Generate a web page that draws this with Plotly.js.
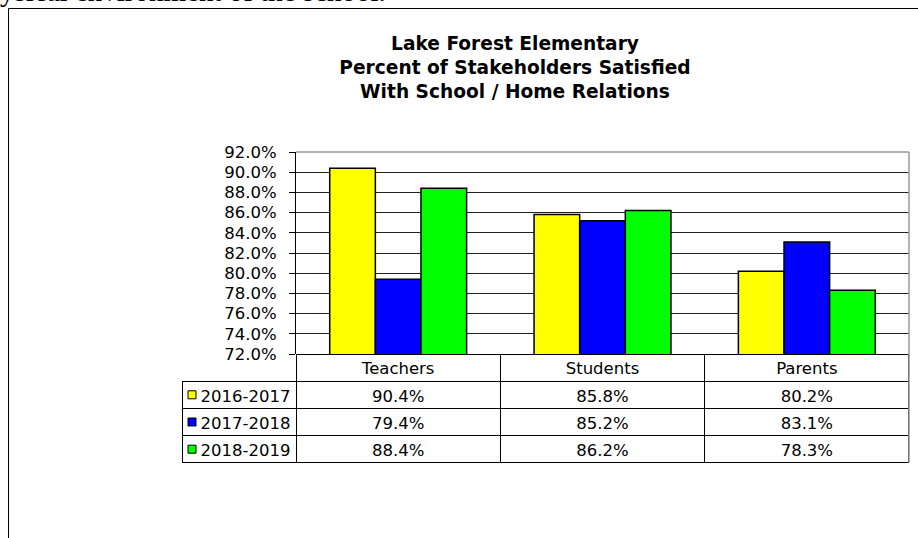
<!DOCTYPE html>
<html>
<head>
<meta charset="utf-8">
<script src="https://cdn.plot.ly/plotly-3.0.1.min.js"></script>
<style>
  html, body { margin: 0; padding: 0; background: #fff; overflow: hidden; }
  #wrap { position: relative; width: 918px; height: 538px; overflow: hidden; }
  #toptext { position: absolute; left: -29px; top: -23px; font-family: "Liberation Serif", "Times New Roman", serif; font-size: 29px; line-height: 29px; color: #000; white-space: nowrap; z-index: 2; }
  #chart { position: absolute; left: 0; top: 0; width: 918px; height: 538px; }
</style>
</head>
<body>
<div id="wrap">
  <div id="chart"></div>
  <div id="toptext">physical environment of the school.</div>
</div>
<script>
// ---- data ----
const categories = ['Teachers', 'Students', 'Parents'];
const seriesNames = ['2016-2017', '2017-2018', '2018-2019'];
const values2016 = [90.4, 85.8, 80.2];
const values2017 = [79.4, 85.2, 83.1];
const values2018 = [88.4, 86.2, 78.3];
const seriesColors = ['#FFFF00', '#0000FF', '#00FF00'];
const yTickRange = [72, 92];

const allSeries = [values2016, values2017, values2018];

// ---- geometry helpers (pixel -> paper) ----
const W = 918, H = 538;
const px = x => x / W;
const py = y => 1 - y / H;

const FONT = 'DejaVu Sans, Verdana, sans-serif';
const FS = 16.5;

const plotL = 296, plotR = 909, plotT = 152, plotB = 354;
const tableL = 182, rowH = 27.2;
const tableB = plotB + 4 * rowH;

const traces = allSeries.map((vals, i) => ({
  type: 'bar',
  name: seriesNames[i],
  x: categories,
  y: vals,
  marker: { color: seriesColors[i], line: { color: '#000', width: 1.5 } },
  hoverinfo: 'x+y+name',
  showlegend: false
}));

const fmt = v => v.toFixed(1) + '%';
const tableDomainY = [py(tableB) - 0.002, py(plotB)];

// data table (header = categories, rows = series)
traces.push({
  type: 'table',
  domain: { x: [px(plotL), px(plotR)], y: tableDomainY },
  columnwidth: [1, 1, 1],
  header: {
    values: categories,
    height: rowH,
    align: 'center',
    line: { color: '#000', width: 1 },
    fill: { color: 'rgba(0,0,0,0)' },
    font: { family: FONT, size: FS, color: '#000' }
  },
  cells: {
    values: categories.map((c, ci) => allSeries.map(s => fmt(s[ci]))),
    height: rowH,
    align: 'center',
    line: { color: '#000', width: 1 },
    fill: { color: 'rgba(0,0,0,0)' },
    font: { family: FONT, size: FS, color: '#000' }
  }
});

// legend column table (blank, borderless header cell)
traces.push({
  type: 'table',
  domain: { x: [px(tableL), px(plotL)], y: tableDomainY },
  header: {
    values: [''],
    height: rowH,
    line: { color: 'rgba(0,0,0,0)', width: 0 },
    fill: { color: 'rgba(0,0,0,0)' },
    font: { family: FONT, size: FS, color: '#000' }
  },
  cells: {
    values: [seriesNames.map(n => '\u00A0\u00A0' + n)],
    height: rowH,
    align: 'left',
    line: { color: '#000', width: 1 },
    fill: { color: 'rgba(0,0,0,0)' },
    font: { family: FONT, size: FS, color: '#000' }
  }
});

const shapes = [];
// legend keys
seriesColors.forEach((c, i) => {
  const cy = plotB + rowH * (i + 1.5);
  shapes.push({
    type: 'rect', xref: 'paper', yref: 'paper', layer: 'above',
    x0: px(188), x1: px(196), y0: py(cy - 4), y1: py(cy + 4),
    fillcolor: c, line: { color: '#000', width: 1 }
  });
});
// gray top & right borders of plot area
shapes.push({ type: 'line', xref: 'paper', yref: 'paper', layer: 'above',
  x0: px(plotL), x1: px(plotR), y0: py(plotT), y1: py(plotT), line: { color: '#999', width: 1.5 } });
shapes.push({ type: 'line', xref: 'paper', yref: 'paper', layer: 'above',
  x0: px(plotR), x1: px(plotR), y0: py(plotT), y1: py(tableB), line: { color: '#999', width: 1.5 } });
// outer frame
shapes.push({ type: 'line', xref: 'paper', yref: 'paper', layer: 'above',
  x0: px(8.5), x1: px(8.5), y0: py(8.5), y1: 0, line: { color: '#000', width: 1 } });
shapes.push({ type: 'line', xref: 'paper', yref: 'paper', layer: 'above',
  x0: px(8.5), x1: 1, y0: py(8.5), y1: py(8.5), line: { color: '#000', width: 1 } });

const layout = {
  width: W, height: H,
  margin: { l: 0, r: 0, t: 0, b: 0 },
  paper_bgcolor: 'rgba(0,0,0,0)',
  plot_bgcolor: '#fff',
  showlegend: false,
  barmode: 'group',
  bargap: 0.33,
  bargroupgap: 0,
  title: {
    text: 'Lake Forest Elementary<br>Percent of Stakeholders Satisfied<br>With School / Home Relations',
    font: { family: FONT, size: 18.6, color: '#000', weight: 700 },
    x: px(515), xanchor: 'center', xref: 'paper',
    y: py(50), yanchor: 'top', yref: 'paper'
  },
  xaxis: {
    domain: [px(plotL), px(plotR)],
    type: 'category',
    showticklabels: false,
    showgrid: false,
    zeroline: false,
    showline: false,
    ticks: ''
  },
  yaxis: {
    domain: [py(plotB), py(plotT)],
    range: yTickRange,
    dtick: 2,
    tick0: 72,
    tickformat: '.1f',
    ticksuffix: '%',
    ticks: 'outside',
    ticklen: 6,
    tickcolor: '#000',
    tickwidth: 1,
    ticklabelstandoff: 9,
    showgrid: true,
    gridcolor: '#222',
    gridwidth: 1,
    zeroline: false,
    showline: true,
    linecolor: '#000',
    linewidth: 1,
    tickfont: { family: FONT, size: FS, color: '#000' }
  },
  shapes: shapes
};

Plotly.newPlot('chart', traces, layout, { displayModeBar: false, staticPlot: true });
</script>
</body>
</html>
